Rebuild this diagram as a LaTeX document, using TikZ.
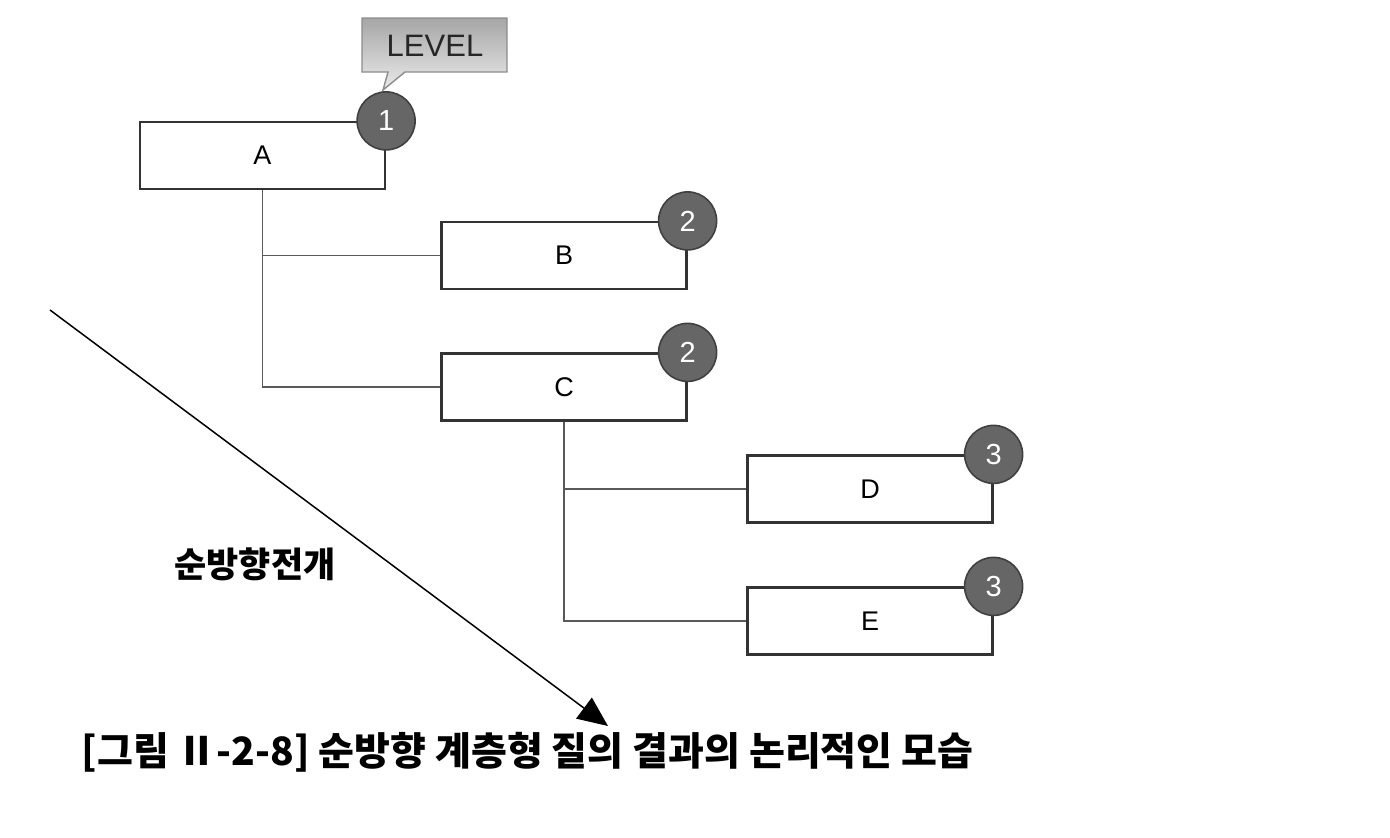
\documentclass[tikz,border=0pt]{standalone}
\usepackage{fontspec}
\setmainfont{Liberation Sans}
\newfontfamily\kor{Noto Sans CJK KR}
\usetikzlibrary{arrows.meta}
\tikzset{
  box/.style={draw=black!80,line width=2.2pt,minimum width=245pt,minimum height=67pt,
    inner sep=0pt,font=\fontsize{27}{30}\selectfont},
  lvl/.style={circle,draw=black!75,line width=1.6pt,fill=black!60,minimum size=58pt,
    inner sep=0pt,text=white,font=\fontsize{29}{30}\selectfont},
  link/.style={draw=black!65,line width=1.8pt}
}
\begin{document}
\begin{tikzpicture}[x=1pt,y=-1pt]
\useasboundingbox (0,0) rectangle (1390,838);

% level tag
\shade[draw=black!45,line width=1.4pt,top color=black!35,bottom color=black!8]
  (362,18) -- (507,18) -- (507,72) -- (405,72) -- (383,90) -- (388,72) -- (362,72) -- cycle;
\node[font=\fontsize{31}{32}\selectfont,text=black!85] (tag) at (435,46) {LEVEL};

% boxes
\node[box] (A) at (262.5,155.5) {A};
\node[box] (B) at (564,255.5) {B};
\node[box] (C) at (564,387) {C};
\node[box] (D) at (870,489) {D};
\node[box] (E) at (870,621) {E};

% links
\draw[link] (A.south) |- (B.west);
\draw[link] (A.south) |- (C.west);
\draw[link] (C.south) |- (D.west);
\draw[link] (C.south) |- (E.west);

% level marks
\node[lvl] (lA) at (A.north east) {1};
\node[lvl] (lB) at (B.north east) {2};
\node[lvl] (lC) at (C.north east) {2};
\node[lvl] (lD) at (D.north east) {3};
\node[lvl] (lE) at (E.north east) {3};

% direction
\coordinate (s) at (50,310);
\coordinate (t) at (608,726);
\draw[line width=1.5pt,-{Triangle[length=30pt,width=26pt]}] (s) -- (t);
\node[font=\kor\bfseries\fontsize{35}{38}\selectfont] (dir) at (255,564) {순방향전개};

% caption
\node[font=\kor\bfseries\fontsize{39}{42}\selectfont,anchor=west] (cap) at (78,752)
  {[그림 Ⅱ-2-8] 순방향 계층형 질의 결과의 논리적인 모습};
\end{tikzpicture}
\end{document}
